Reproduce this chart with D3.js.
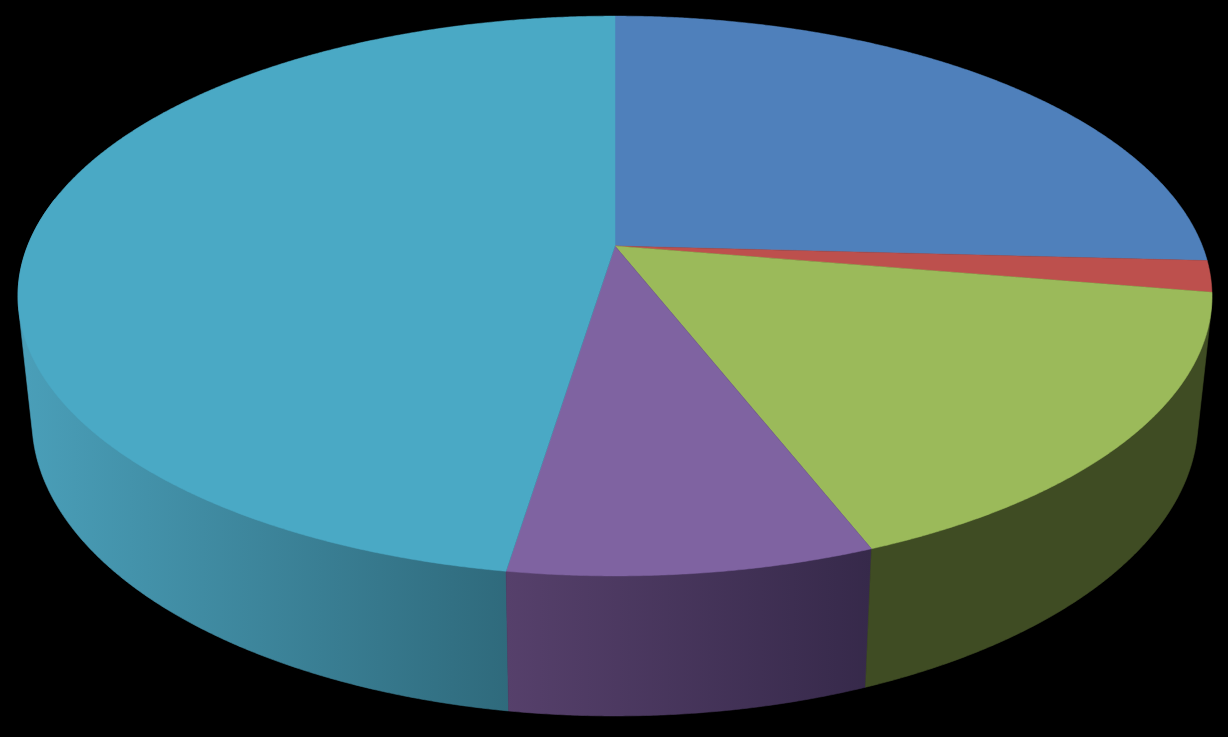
<!DOCTYPE html>
<html>
<head>
<meta charset="utf-8">
<script src="https://cdn.jsdelivr.net/npm/d3@7/dist/d3.min.js"></script>
<style>html,body{margin:0;padding:0;background:#000;overflow:hidden}svg{display:block}</style>
</head>
<body>
<div id="chart"></div>
<script>
// Data (share of the pie, %), clockwise from 12 o'clock
const categories = ["Blue", "Red", "Green", "Purple", "Teal"];
const values = [25.85, 1.8, 16.42, 8.37, 47.56];
const topColors = ["#4f80bb", "#bd504d", "#9bba5a", "#7f63a1", "#4aa9c5"];
// Side wall colour ramps, left to right by x; null = wall not visible
const sideColors = [null, null, ["#3f4c23", "#3f4c23"], ["#56406b", "#36294a"], ["#4a9fb9", "#2f6a7c"]];

const width = 1228, height = 737;

// Perspective projection of the unit disc onto the top face
const apex = {x: 615, y: 246};
const persp = 0.1786, scaleX = 587.4, scaleY = 271;
const topEllipse = {cy: 296, rx: 597, ry: 280};
const baseEllipse = {cy: 420, rx: 583, ry: 296};

function projectTop(a) {
  const u = Math.sin(a), v = -Math.cos(a), w = 1 - persp * v;
  return [apex.x + scaleX * u / w, apex.y + scaleY * v / w];
}
function projectBase(a) {
  const p = projectTop(a);
  return [apex.x + (p[0] - apex.x) * baseEllipse.rx / topEllipse.rx,
          baseEllipse.cy + (p[1] - topEllipse.cy) * baseEllipse.ry / topEllipse.ry];
}

const arcs = d3.pie().sort(null).startAngle(0).endAngle(2 * Math.PI)(values);
const line = d3.line();
const svg = d3.select("#chart").append("svg").attr("width", width).attr("height", height);
svg.append("rect").attr("width", width).attr("height", height).attr("fill", "#000");
const defs = svg.append("defs");

function samples(a0, a1) {
  const n = Math.max(2, Math.ceil((a1 - a0) / 0.005));
  return d3.range(n + 1).map(i => a0 + (a1 - a0) * i / n);
}

// Left-most silhouette point of the top face (teal wall stops there)
const wallLimit = 3 * Math.PI / 2 + Math.asin(persp);

// Side walls
[4, 3, 2].forEach(i => {
  const d = arcs[i];
  const angles = samples(d.startAngle, Math.min(d.endAngle, wallLimit));
  const pts = angles.map(projectTop).concat(angles.map(projectBase));
  const hull = d3.polygonHull(pts);
  const xs = d3.extent(pts, p => p[0]);
  const id = "side" + i;
  const g = defs.append("linearGradient").attr("id", id)
    .attr("gradientUnits", "userSpaceOnUse")
    .attr("x1", xs[0]).attr("x2", xs[1]).attr("y1", 0).attr("y2", 0);
  g.append("stop").attr("offset", 0).attr("stop-color", sideColors[i][0]);
  g.append("stop").attr("offset", 1).attr("stop-color", sideColors[i][1]);
  svg.append("path").attr("d", line(hull) + "Z").attr("fill", `url(#${id})`)
    .attr("stroke", `url(#${id})`).attr("stroke-width", 0.6);
});

// Top face
arcs.forEach((d, i) => {
  const pts = [[apex.x, apex.y]].concat(samples(d.startAngle, d.endAngle).map(projectTop));
  svg.append("path").attr("d", line(pts) + "Z").attr("fill", topColors[i])
    .attr("stroke", topColors[i]).attr("stroke-width", 0.5);
});
</script>
</body>
</html>
